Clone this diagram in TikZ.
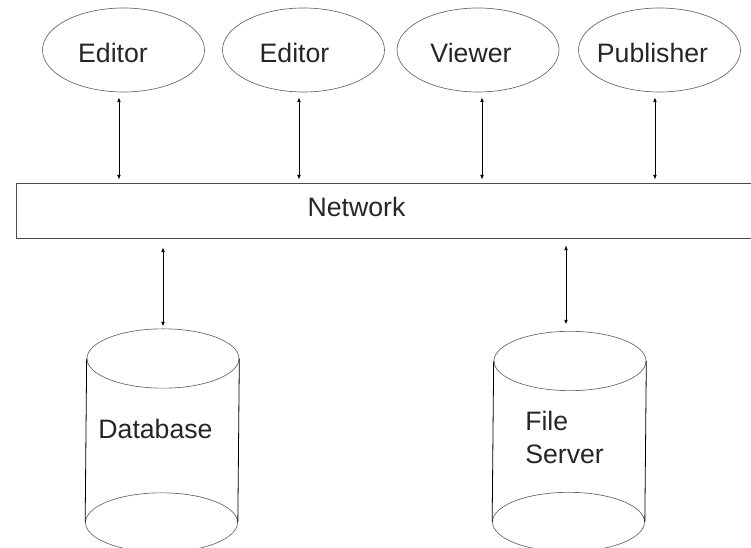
\documentclass[tikz,border=0pt]{standalone}
\usepackage{fontspec}
\setmainfont{Liberation Sans}
\usetikzlibrary{shapes.geometric,arrows.meta}

\tikzset{
	client/.style={ellipse, draw=black!60, line width=0.5pt, minimum width=121.5pt, minimum height=63pt, inner sep=0pt},
	disk/.style={ellipse, draw=black!60, line width=0.5pt, minimum width=114pt, minimum height=44.5pt, inner sep=0pt},
	wall/.style={draw=black, line width=0.6pt},
	link/.style={line width=0.6pt, {Latex[length=3.5pt,width=2.8pt]}-{Latex[length=3.5pt,width=2.8pt]}},
	lbl/.style={inner sep=0pt, text=black!85, font=\fontsize{20}{24.75}\selectfont},
}

\begin{document}
\begin{tikzpicture}[x=0.75pt,y=0.75pt,yscale=-1,xscale=1]
	\useasboundingbox (0,0) rectangle (751,548);

	%Shape: Ellipse
	\node [client] (ed1) at (123.5,50) {};
	%Shape: Ellipse
	\node [client] (ed2) at (303.5,50) {};
	%Shape: Ellipse
	\node [client] (view) at (478,50) {};
	%Shape: Ellipse
	\node [client] (pub) at (659.5,50) {};
	%Shape: Rectangle
	\node [draw=black!70, line width=0.6pt, minimum width=558pt, minimum height=41.25pt, inner sep=0pt] (net) at (388,210.5) {};

	%Shape: Can
	\node [disk] (db) at (163,358.5) {};
	\node [disk] (dbb) at (161.5,522.5) {};
	\draw [wall] (db.west) -- (dbb.west) ;
	\draw [wall] (db.east) -- (dbb.east) ;
	%Shape: Can
	\node [disk] (fs) at (570,361) {};
	\node [disk] (fsb) at (568.5,522) {};
	\draw [wall] (fs.west) -- (fsb.west) ;
	\draw [wall] (fs.east) -- (fsb.east) ;

	%Straight Lines
	\draw [link, shorten <=3.75pt, shorten >=2.25pt] ([xshift=-3.4pt]ed1.south) -- ([xshift=-3.4pt]ed1.south |- net.north) ;
	\draw [link, shorten <=3.75pt, shorten >=2.25pt] ([xshift=-3.4pt]ed2.south) -- ([xshift=-3.4pt]ed2.south |- net.north) ;
	\draw [link, shorten <=3.75pt, shorten >=2.25pt] ([xshift=3pt]view.south) -- ([xshift=3pt]view.south |- net.north) ;
	\draw [link, shorten <=3.75pt, shorten >=2.25pt] ([xshift=-3.4pt]pub.south) -- ([xshift=-3.4pt]pub.south |- net.north) ;
	\draw [link, shorten <=6.75pt, shorten >=1.5pt] (db.north |- net.south) -- (db.north) ;
	\draw [link, shorten <=5.25pt, shorten >=4.9pt] ([xshift=-3pt]fs.north |- net.south) -- ([xshift=-3pt]fs.north) ;

	% Text Node
	\draw (113,63) node [lbl, anchor=base] (ted1) {Editor};
	% Text Node
	\draw (294.5,63) node [lbl, anchor=base] (ted2) {Editor};
	% Text Node
	\draw (471,63) node [lbl, anchor=base] (tview) {Viewer};
	% Text Node
	\draw (652.5,63) node [lbl, anchor=base] (tpub) {Publisher};
	% Text Node
	\draw (356.5,217) node [lbl, anchor=base] (tnet) {Network};
	% Text Node
	\draw (155.5,439) node [lbl, anchor=base] (tdb) {Database};
	% Text Node
	\draw (525,437) node [lbl, anchor=west, align=left] (tfs) {File\\Server};

\end{tikzpicture}
\end{document}
